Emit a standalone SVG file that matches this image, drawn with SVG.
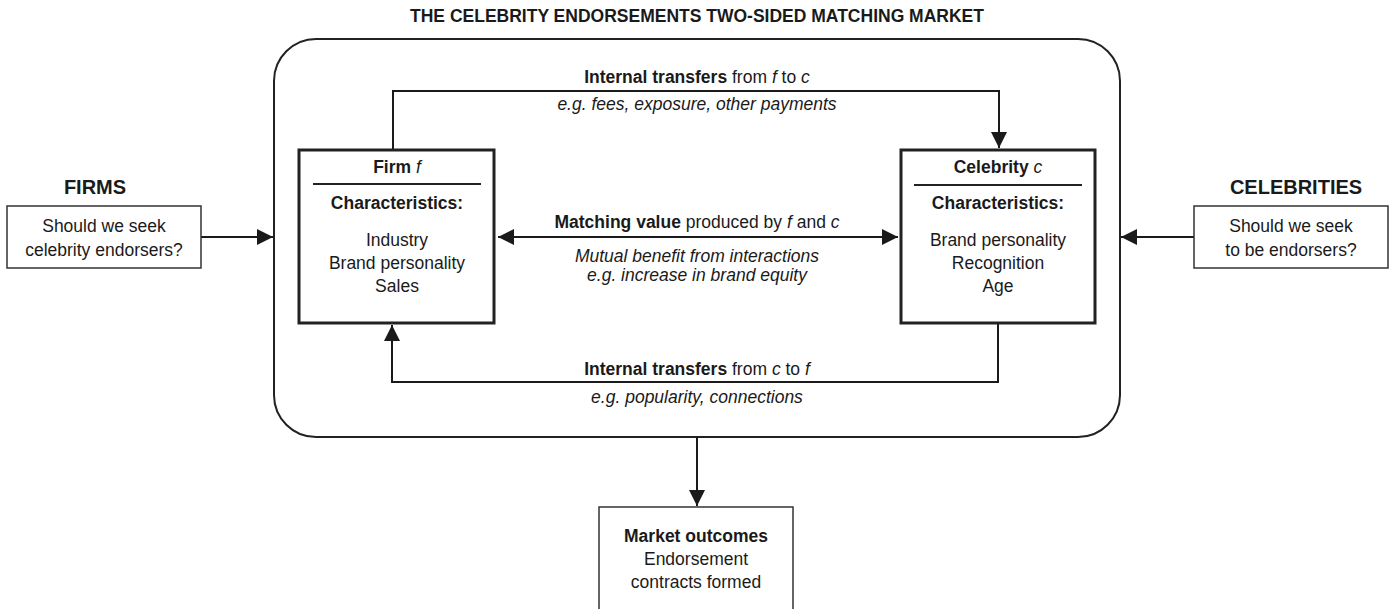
<svg xmlns="http://www.w3.org/2000/svg" width="1398" height="609" viewBox="0 0 1398 609">
<defs>
<style>
text{font-family:"Liberation Sans",Arial,sans-serif;fill:#1a1a1a;text-anchor:middle}
.t{font-size:17.5px}
.b{font-weight:bold}
.i{font-style:italic}
.h{font-size:20px;font-weight:bold}
.box{fill:#fff;stroke:#333;stroke-width:1.5}
.tbox{fill:#fff;stroke:#222;stroke-width:3}
.ln{fill:none;stroke:#1a1a1a;stroke-width:2}
</style>
<marker id="ah" viewBox="0 0 10 10" refX="10" refY="5" markerWidth="16" markerHeight="16" markerUnits="userSpaceOnUse" orient="auto-start-reverse">
<path d="M0,0 L10,5 L0,10 Z" fill="#1a1a1a"/>
</marker>
</defs>
<rect width="1398" height="609" fill="#fff"/>
<text x="697" y="22" class="b" style="font-size:17.5px">THE CELEBRITY ENDORSEMENTS TWO-SIDED MATCHING MARKET</text>

<g id="market">
<rect x="274" y="39" width="846" height="398" rx="42" ry="42" fill="none" stroke="#222" stroke-width="2"/>
</g>

<g id="connectors">
<path class="ln" d="M393,149 V91 H999 V148" marker-end="url(#ah)"/>
<path class="ln" d="M998,324 V382 H392 V325" marker-end="url(#ah)"/>
<path class="ln" d="M498,237 H898" marker-start="url(#ah)" marker-end="url(#ah)"/>
<path class="ln" d="M201,237 H273" marker-end="url(#ah)"/>
<path class="ln" d="M1194,237 H1121" marker-end="url(#ah)"/>
<path class="ln" d="M697,437 V506" marker-end="url(#ah)"/>
</g>

<g id="labels">
<text x="697" y="83" class="t"><tspan class="b">Internal transfers</tspan> from <tspan class="i">f</tspan> to <tspan class="i">c</tspan></text>
<text x="697" y="110" class="t i">e.g. fees, exposure, other payments</text>
<text x="697" y="228" class="t"><tspan class="b">Matching value</tspan> produced by <tspan class="i">f</tspan> and <tspan class="i">c</tspan></text>
<text x="697" y="262" class="t i">Mutual benefit from interactions</text>
<text x="697" y="281" class="t i">e.g. increase in brand equity</text>
<text x="697" y="375" class="t"><tspan class="b">Internal transfers</tspan> from <tspan class="i">c</tspan> to <tspan class="i">f</tspan></text>
<text x="697" y="403" class="t i">e.g. popularity, connections</text>
</g>

<g id="firm">
<rect class="tbox" x="299" y="150" width="195" height="173"/>
<line x1="313" y1="184" x2="481" y2="184" stroke="#222" stroke-width="2"/>
<text x="397" y="173" class="t"><tspan class="b">Firm</tspan> <tspan class="i">f</tspan></text>
<text x="397" y="209" class="t b">Characteristics:</text>
<text x="397" y="246" class="t">Industry</text>
<text x="397" y="269" class="t">Brand personality</text>
<text x="397" y="292" class="t">Sales</text>
</g>

<g id="celebrity">
<rect class="tbox" x="901" y="150" width="194" height="173"/>
<line x1="914" y1="185" x2="1082" y2="185" stroke="#222" stroke-width="2"/>
<text x="998" y="173" class="t"><tspan class="b">Celebrity</tspan> <tspan class="i">c</tspan></text>
<text x="998" y="209" class="t b">Characteristics:</text>
<text x="998" y="246" class="t">Brand personality</text>
<text x="998" y="269" class="t">Recognition</text>
<text x="998" y="292" class="t">Age</text>
</g>

<g id="firms">
<text x="95" y="194" class="h">FIRMS</text>
<rect class="box" x="7" y="206" width="194" height="62"/>
<text x="104" y="232" class="t">Should we seek</text>
<text x="104" y="256" class="t">celebrity endorsers?</text>
</g>

<g id="celebrities">
<text x="1296" y="194" class="h">CELEBRITIES</text>
<rect class="box" x="1194" y="206" width="194" height="62"/>
<text x="1291" y="232" class="t">Should we seek</text>
<text x="1291" y="256" class="t">to be endorsers?</text>
</g>

<g id="outcomes">
<rect class="box" x="599" y="507" width="194" height="110"/>
<text x="696" y="542" class="t b">Market outcomes</text>
<text x="696" y="565" class="t">Endorsement</text>
<text x="696" y="588" class="t">contracts formed</text>
</g>
</svg>
